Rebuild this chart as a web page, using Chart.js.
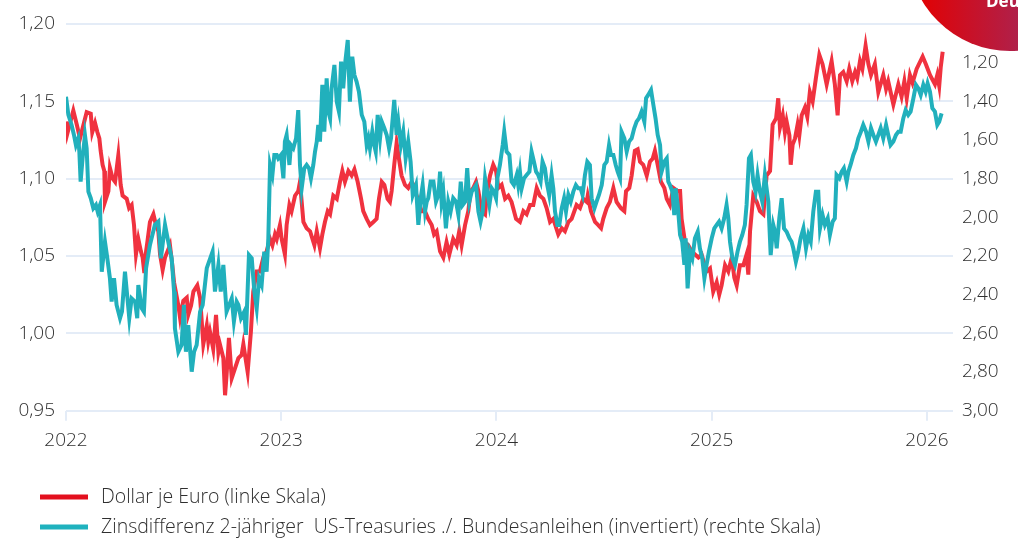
<!DOCTYPE html>
<html lang="de">
<head>
<meta charset="utf-8">
<script src="https://cdn.jsdelivr.net/npm/chart.js@4.4.1/dist/chart.umd.min.js"></script>
<style>
  html, body { margin: 0; padding: 0; background: #fff; }
  #wrap { width: 1018px; height: 538px; position: relative; }
</style>
</head>
<body>
<div id="wrap"><canvas id="chart"></canvas></div>
<script>
// Dollar je Euro (linke Skala), Zeitpunkte als Dezimaljahr
const euroJahr = [
  2022.000, 2022.006, 2022.034, 2022.050, 2022.065, 2022.096, 2022.115, 2022.122, 2022.135, 2022.146,
  2022.155, 2022.161, 2022.170, 2022.178, 2022.181, 2022.197, 2022.204, 2022.217, 2022.228, 2022.243,
  2022.254, 2022.263, 2022.282, 2022.293, 2022.305, 2022.316, 2022.325, 2022.336, 2022.348, 2022.356,
  2022.364, 2022.372, 2022.378, 2022.390, 2022.406, 2022.418, 2022.429, 2022.437, 2022.449, 2022.460,
  2022.483, 2022.494, 2022.502, 2022.522, 2022.530, 2022.545, 2022.561, 2022.568, 2022.581, 2022.592,
  2022.610, 2022.623, 2022.638, 2022.654, 2022.661, 2022.669, 2022.684, 2022.697, 2022.708, 2022.715,
  2022.731, 2022.739, 2022.746, 2022.757, 2022.770, 2022.801, 2022.816, 2022.824, 2022.844, 2022.859,
  2022.870, 2022.886, 2022.901, 2022.917, 2022.932, 2022.948, 2022.959, 2022.971, 2022.979, 2022.994,
  2023.002, 2023.017, 2023.025, 2023.038, 2023.048, 2023.064, 2023.079, 2023.087, 2023.103, 2023.118,
  2023.134, 2023.154, 2023.165, 2023.180, 2023.191, 2023.203, 2023.216, 2023.227, 2023.242, 2023.258,
  2023.273, 2023.284, 2023.296, 2023.312, 2023.327, 2023.340, 2023.355, 2023.371, 2023.381, 2023.397,
  2023.412, 2023.428, 2023.443, 2023.454, 2023.467, 2023.479, 2023.494, 2023.505, 2023.513, 2023.525,
  2023.536, 2023.549, 2023.559, 2023.575, 2023.590, 2023.606, 2023.614, 2023.629, 2023.652, 2023.668,
  2023.683, 2023.699, 2023.710, 2023.722, 2023.738, 2023.753, 2023.768, 2023.781, 2023.799, 2023.815,
  2023.827, 2023.838, 2023.854, 2023.869, 2023.880, 2023.892, 2023.905, 2023.916, 2023.931, 2023.947,
  2023.957, 2023.970, 2023.985, 2023.998, 2024.009, 2024.024, 2024.040, 2024.055, 2024.070, 2024.091,
  2024.109, 2024.125, 2024.140, 2024.156, 2024.171, 2024.187, 2024.202, 2024.218, 2024.233, 2024.249,
  2024.264, 2024.287, 2024.303, 2024.318, 2024.334, 2024.349, 2024.372, 2024.388, 2024.403, 2024.419,
  2024.424, 2024.439, 2024.458, 2024.473, 2024.486, 2024.496, 2024.512, 2024.527, 2024.543, 2024.558,
  2024.578, 2024.594, 2024.602, 2024.617, 2024.628, 2024.643, 2024.656, 2024.667, 2024.682, 2024.698,
  2024.713, 2024.726, 2024.736, 2024.749, 2024.764, 2024.780, 2024.791, 2024.806, 2024.822, 2024.842,
  2024.853, 2024.860, 2024.876, 2024.891, 2024.907, 2024.938, 2024.953, 2024.976, 2024.992, 2025.007,
  2025.023, 2025.035, 2025.046, 2025.062, 2025.077, 2025.093, 2025.105, 2025.116, 2025.131, 2025.147,
  2025.162, 2025.170, 2025.178, 2025.193, 2025.209, 2025.224, 2025.240, 2025.255, 2025.271, 2025.283,
  2025.299, 2025.309, 2025.317, 2025.330, 2025.340, 2025.348, 2025.361, 2025.367, 2025.376, 2025.387,
  2025.399, 2025.407, 2025.418, 2025.433, 2025.444, 2025.456, 2025.469, 2025.484, 2025.500, 2025.515,
  2025.534, 2025.557, 2025.572, 2025.585, 2025.596, 2025.611, 2025.627, 2025.639, 2025.653, 2025.666,
  2025.676, 2025.689, 2025.700, 2025.715, 2025.728, 2025.740, 2025.758, 2025.774, 2025.797, 2025.810,
  2025.820, 2025.844, 2025.867, 2025.882, 2025.895, 2025.906, 2025.921, 2025.933, 2025.952, 2025.980,
  2025.995, 2026.014, 2026.037, 2026.048, 2026.057, 2026.064, 2026.073
];
const euroKurs = [
  1.137, 1.129, 1.144, 1.135, 1.126, 1.143, 1.142, 1.130, 1.136, 1.130,
  1.126, 1.118, 1.109, 1.105, 1.085, 1.092, 1.107, 1.100, 1.098, 1.115,
  1.096, 1.089, 1.087, 1.081, 1.083, 1.070, 1.051, 1.061, 1.053, 1.049,
  1.039, 1.053, 1.059, 1.072, 1.077, 1.070, 1.066, 1.051, 1.041, 1.049,
  1.057, 1.044, 1.033, 1.018, 1.010, 1.021, 1.023, 1.012, 1.018, 1.027,
  1.031, 1.023, 0.993, 1.005, 0.995, 1.001, 0.990, 1.012, 0.988, 0.993,
  0.984, 0.960, 0.973, 0.997, 0.971, 0.984, 0.986, 0.993, 0.975, 1.001,
  1.027, 1.040, 1.040, 1.049, 1.053, 1.061, 1.057, 1.064, 1.061, 1.070,
  1.061, 1.051, 1.070, 1.083, 1.079, 1.089, 1.092, 1.098, 1.072, 1.068,
  1.066, 1.057, 1.066, 1.055, 1.064, 1.072, 1.079, 1.077, 1.089, 1.087,
  1.098, 1.105, 1.098, 1.105, 1.102, 1.106, 1.098, 1.087, 1.079, 1.074,
  1.070, 1.072, 1.074, 1.087, 1.098, 1.096, 1.087, 1.085, 1.092, 1.109,
  1.123, 1.111, 1.102, 1.096, 1.094, 1.098, 1.096, 1.089, 1.079, 1.079,
  1.074, 1.070, 1.064, 1.066, 1.053, 1.049, 1.059, 1.051, 1.061, 1.057,
  1.066, 1.057, 1.070, 1.079, 1.092, 1.094, 1.098, 1.092, 1.079, 1.077,
  1.092, 1.102, 1.109, 1.105, 1.094, 1.096, 1.087, 1.089, 1.085, 1.074,
  1.072, 1.079, 1.077, 1.083, 1.083, 1.094, 1.089, 1.087, 1.081, 1.072,
  1.074, 1.064, 1.068, 1.066, 1.072, 1.074, 1.083, 1.081, 1.087, 1.085,
  1.089, 1.079, 1.072, 1.070, 1.068, 1.074, 1.081, 1.085, 1.094, 1.085,
  1.081, 1.079, 1.092, 1.094, 1.102, 1.118, 1.119, 1.111, 1.109, 1.102,
  1.111, 1.113, 1.118, 1.109, 1.098, 1.094, 1.087, 1.083, 1.094, 1.092,
  1.092, 1.074, 1.059, 1.057, 1.053, 1.049, 1.051, 1.040, 1.042, 1.027,
  1.033, 1.025, 1.031, 1.044, 1.040, 1.049, 1.036, 1.031, 1.044, 1.044,
  1.051, 1.038, 1.066, 1.089, 1.085, 1.079, 1.077, 1.102, 1.105, 1.135,
  1.139, 1.152, 1.133, 1.141, 1.130, 1.137, 1.128, 1.109, 1.122, 1.126,
  1.135, 1.128, 1.141, 1.146, 1.140, 1.156, 1.150, 1.165, 1.180, 1.174,
  1.161, 1.176, 1.161, 1.141, 1.167, 1.169, 1.163, 1.171, 1.163, 1.169,
  1.165, 1.176, 1.171, 1.186, 1.174, 1.167, 1.174, 1.156, 1.167, 1.158,
  1.163, 1.148, 1.161, 1.153, 1.163, 1.152, 1.167, 1.162, 1.171, 1.179,
  1.174, 1.167, 1.161, 1.167, 1.160, 1.172, 1.182
];

// Zinsdifferenz 2-jährige US-Treasuries ./. Bundesanleihen (rechte Skala, invertiert)
const spreadJahr = [
  2022.000, 2022.011, 2022.026, 2022.037, 2022.046, 2022.057, 2022.062, 2022.068, 2022.077, 2022.088,
  2022.096, 2022.104, 2022.115, 2022.127, 2022.139, 2022.147, 2022.158, 2022.166, 2022.181, 2022.192,
  2022.204, 2022.212, 2022.223, 2022.235, 2022.251, 2022.260, 2022.274, 2022.294, 2022.305, 2022.321,
  2022.331, 2022.336, 2022.352, 2022.362, 2022.372, 2022.390, 2022.413, 2022.429, 2022.441, 2022.460,
  2022.475, 2022.491, 2022.502, 2022.506, 2022.522, 2022.537, 2022.548, 2022.557, 2022.568, 2022.584,
  2022.595, 2022.607, 2022.623, 2022.635, 2022.654, 2022.681, 2022.692, 2022.708, 2022.719, 2022.731,
  2022.746, 2022.770, 2022.780, 2022.793, 2022.801, 2022.813, 2022.828, 2022.836, 2022.850, 2022.863,
  2022.875, 2022.886, 2022.897, 2022.909, 2022.921, 2022.932, 2022.940, 2022.948, 2022.959, 2022.968,
  2022.979, 2022.986, 2022.999, 2023.010, 2023.017, 2023.025, 2023.038, 2023.045, 2023.056, 2023.069,
  2023.079, 2023.087, 2023.095, 2023.107, 2023.118, 2023.129, 2023.138, 2023.149, 2023.157, 2023.165,
  2023.172, 2023.180, 2023.191, 2023.200, 2023.211, 2023.219, 2023.227, 2023.234, 2023.247, 2023.258,
  2023.268, 2023.278, 2023.288, 2023.296, 2023.309, 2023.319, 2023.330, 2023.340, 2023.350, 2023.361,
  2023.374, 2023.386, 2023.397, 2023.405, 2023.412, 2023.423, 2023.432, 2023.439, 2023.448, 2023.459,
  2023.467, 2023.479, 2023.490, 2023.501, 2023.510, 2023.525, 2023.536, 2023.544, 2023.556, 2023.567,
  2023.578, 2023.590, 2023.601, 2023.611, 2023.626, 2023.637, 2023.648, 2023.657, 2023.668, 2023.676,
  2023.683, 2023.694, 2023.707, 2023.719, 2023.730, 2023.738, 2023.745, 2023.753, 2023.765, 2023.776,
  2023.787, 2023.799, 2023.812, 2023.823, 2023.834, 2023.843, 2023.854, 2023.864, 2023.874, 2023.885,
  2023.895, 2023.905, 2023.916, 2023.926, 2023.936, 2023.947, 2023.957, 2023.967, 2023.978, 2023.988,
  2023.998, 2024.004, 2024.016, 2024.029, 2024.036, 2024.047, 2024.060, 2024.070, 2024.081, 2024.094,
  2024.101, 2024.109, 2024.117, 2024.128, 2024.140, 2024.153, 2024.163, 2024.174, 2024.184, 2024.194,
  2024.205, 2024.214, 2024.225, 2024.233, 2024.245, 2024.256, 2024.264, 2024.272, 2024.283, 2024.292,
  2024.303, 2024.314, 2024.323, 2024.334, 2024.345, 2024.357, 2024.369, 2024.380, 2024.391, 2024.400,
  2024.411, 2024.422, 2024.434, 2024.442, 2024.455, 2024.465, 2024.476, 2024.489, 2024.501, 2024.512,
  2024.523, 2024.532, 2024.543, 2024.554, 2024.563, 2024.574, 2024.581, 2024.594, 2024.605, 2024.616,
  2024.628, 2024.640, 2024.651, 2024.662, 2024.674, 2024.687, 2024.695, 2024.705, 2024.718, 2024.729,
  2024.739, 2024.749, 2024.760, 2024.767, 2024.780, 2024.791, 2024.798, 2024.806, 2024.817, 2024.826,
  2024.832, 2024.842, 2024.853, 2024.863, 2024.873, 2024.879, 2024.888, 2024.899, 2024.910, 2024.922,
  2024.935, 2024.945, 2024.956, 2024.966, 2024.976, 2024.987, 2025.000, 2025.012, 2025.023, 2025.034,
  2025.046, 2025.058, 2025.069, 2025.077, 2025.085, 2025.096, 2025.108, 2025.120, 2025.131, 2025.142,
  2025.154, 2025.162, 2025.173, 2025.182, 2025.193, 2025.204, 2025.213, 2025.224, 2025.235, 2025.247,
  2025.263, 2025.274, 2025.286, 2025.294, 2025.302, 2025.314, 2025.325, 2025.336, 2025.348, 2025.361,
  2025.371, 2025.379, 2025.391, 2025.402, 2025.413, 2025.426, 2025.438, 2025.449, 2025.460, 2025.472,
  2025.484, 2025.495, 2025.503, 2025.515, 2025.526, 2025.539, 2025.549, 2025.562, 2025.572, 2025.580,
  2025.593, 2025.604, 2025.614, 2025.627, 2025.635, 2025.645, 2025.658, 2025.670, 2025.681, 2025.693,
  2025.704, 2025.717, 2025.728, 2025.740, 2025.751, 2025.763, 2025.774, 2025.785, 2025.797, 2025.810,
  2025.820, 2025.831, 2025.844, 2025.856, 2025.867, 2025.878, 2025.890, 2025.901, 2025.913, 2025.924,
  2025.937, 2025.949, 2025.960, 2025.971, 2025.983, 2025.994, 2026.003, 2026.014, 2026.025, 2026.037,
  2026.048, 2026.057, 2026.068
];
const spreadWert = [
  1.376, 1.470, 1.522, 1.574, 1.626, 1.591, 1.660, 1.815, 1.695, 1.574,
  1.643, 1.867, 1.901, 1.953, 1.936, 1.970, 1.936, 2.281, 2.126, 2.212,
  2.315, 2.436, 2.315, 2.453, 2.522, 2.488, 2.281, 2.522, 2.419, 2.436,
  2.522, 2.350, 2.470, 2.488, 2.263, 2.143, 2.039, 2.022, 2.212, 2.039,
  2.126, 2.212, 2.384, 2.574, 2.695, 2.660, 2.453, 2.695, 2.557, 2.798,
  2.695, 2.660, 2.488, 2.453, 2.263, 2.177, 2.384, 2.246, 2.384, 2.246,
  2.488, 2.419, 2.539, 2.436, 2.453, 2.522, 2.488, 2.608, 2.195, 2.212,
  2.384, 2.470, 2.315, 2.350, 2.177, 2.281, 2.108, 1.729, 1.781, 1.677,
  1.677, 1.695, 1.677, 1.798, 1.608, 1.574, 1.729, 1.626, 1.643, 1.591,
  1.445, 1.729, 1.850, 1.746, 1.729, 1.746, 1.798, 1.729, 1.660, 1.608,
  1.522, 1.608, 1.315, 1.557, 1.281, 1.453, 1.488, 1.333, 1.212, 1.402,
  1.453, 1.195, 1.333, 1.212, 1.083, 1.402, 1.169, 1.264, 1.298, 1.350,
  1.470, 1.505, 1.626, 1.591, 1.643, 1.557, 1.626, 1.660, 1.470, 1.591,
  1.505, 1.539, 1.574, 1.643, 1.591, 1.393, 1.574, 1.505, 1.626, 1.557,
  1.695, 1.608, 1.712, 1.884, 1.833, 2.039, 1.901, 1.833, 1.970, 1.919,
  1.901, 1.815, 1.815, 1.919, 1.884, 1.764, 1.919, 1.867, 2.057, 1.919,
  1.970, 1.901, 1.919, 1.988, 1.815, 1.936, 1.919, 1.746, 1.919, 1.867,
  1.850, 1.833, 1.970, 2.022, 1.970, 1.798, 1.867, 1.936, 1.850, 1.867,
  1.901, 1.798, 1.729, 1.626, 1.557, 1.660, 1.677, 1.815, 1.833, 1.781,
  1.833, 1.764, 1.850, 1.798, 1.781, 1.764, 1.660, 1.712, 1.764, 1.781,
  1.815, 1.712, 1.746, 1.815, 1.884, 1.781, 1.850, 1.970, 2.039, 2.039,
  1.953, 1.901, 1.970, 1.884, 1.919, 1.867, 1.833, 1.850, 1.850, 1.884,
  1.781, 1.712, 1.729, 1.901, 1.953, 1.919, 1.884, 1.833, 1.729, 1.712,
  1.626, 1.677, 1.677, 1.729, 1.764, 1.798, 1.557, 1.591, 1.660, 1.608,
  1.591, 1.539, 1.505, 1.488, 1.453, 1.505, 1.384, 1.367, 1.341, 1.419,
  1.488, 1.574, 1.626, 1.764, 1.712, 1.695, 1.815, 1.833, 1.867, 1.988,
  1.850, 1.936, 2.091, 2.126, 2.246, 2.108, 2.367, 2.177, 2.212, 2.108,
  2.074, 2.160, 2.212, 2.315, 2.246, 2.177, 2.108, 2.057, 2.039, 2.022,
  2.057, 2.005, 1.936, 2.005, 2.126, 2.212, 2.246, 2.177, 2.126, 2.091,
  2.039, 1.936, 1.695, 1.677, 1.815, 1.867, 1.781, 1.867, 1.919, 1.781,
  1.919, 2.195, 2.039, 2.074, 2.160, 2.005, 1.901, 2.057, 2.074, 2.108,
  2.126, 2.160, 2.229, 2.177, 2.108, 2.057, 2.160, 2.091, 2.126, 1.970,
  1.867, 1.867, 2.057, 1.988, 2.039, 2.005, 2.091, 2.022, 2.005, 1.781,
  1.798, 1.764, 1.746, 1.815, 1.764, 1.729, 1.677, 1.643, 1.591, 1.557,
  1.522, 1.557, 1.608, 1.539, 1.574, 1.608, 1.574, 1.539, 1.591, 1.522,
  1.574, 1.626, 1.608, 1.574, 1.557, 1.557, 1.488, 1.445, 1.470, 1.453,
  1.384, 1.315, 1.333, 1.367, 1.315, 1.350, 1.307, 1.350, 1.436, 1.453,
  1.522, 1.505, 1.462
];

const jahresTicks = [2022, 2023, 2024, 2025, 2026];
const linkeTicks = [0.95, 1.00, 1.05, 1.10, 1.15, 1.20];
const rechteTicks = [1.0, 1.2, 1.4, 1.6, 1.8, 2.0, 2.2, 2.4, 2.6, 2.8, 3.0];
const serienNamen = [
  "Dollar je Euro (linke Skala)",
  "Zinsdifferenz 2-jähriger  US-Treasuries ./. Bundesanleihen (invertiert) (rechte Skala)"
];

const rot = "#f0323f";
const tuerkis = "#21b0bc";
const gitterFarbe = "#e4ecf7";
const textFarbe = "#2f2f2f";
const schrift = { family: "'Open Sans', sans-serif", size: 19, weight: "300" };

function komma(v) {
  return v.toFixed(2).replace(".", ",");
}

// Legende unten links: Linie + Text, zwei Zeilen
const legendeUnten = {
  id: "legendeUnten",
  afterDraw(chart) {
    const ctx = chart.ctx;
    const farben = ["#e3101e", "#1fb2be"];
    const zeilenY = [497, 527];
    ctx.save();
    ctx.font = "300 19.5px 'Open Sans', sans-serif";
    ctx.textBaseline = "middle";
    ctx.fillStyle = textFarbe;
    serienNamen.forEach((name, i) => {
      ctx.strokeStyle = farben[i];
      ctx.lineWidth = 5;
      ctx.beginPath();
      ctx.moveTo(40, zeilenY[i]);
      ctx.lineTo(88, zeilenY[i]);
      ctx.stroke();
      ctx.fillText(name, 101, zeilenY[i]);
    });
    ctx.restore();
  }
};

// roter Kreisausschnitt oben rechts
const eckKreis = {
  id: "eckKreis",
  afterDraw(chart) {
    const ctx = chart.ctx;
    ctx.save();
    const grad = ctx.createLinearGradient(915, 0, 1018, 0);
    grad.addColorStop(0, "#e40000");
    grad.addColorStop(1, "#b0204a");
    ctx.fillStyle = grad;
    ctx.beginPath();
    ctx.arc(1010, -51, 102, 0, Math.PI * 2);
    ctx.fill();
    ctx.fillStyle = "#ffffff";
    ctx.font = "bold 17px 'Open Sans', sans-serif";
    ctx.textBaseline = "alphabetic";
    ctx.fillText("Deut", 986, 7);
    ctx.restore();
  }
};

const ctx = document.getElementById("chart").getContext("2d");
new Chart(ctx, {
  type: "line",
  data: {
    datasets: [
      {
        label: serienNamen[0],
        data: euroJahr.map((x, i) => ({ x: x, y: euroKurs[i] })),
        yAxisID: "links",
        borderColor: rot,
        borderWidth: 4,
        pointRadius: 0,
        tension: 0,
        order: 1
      },
      {
        label: serienNamen[1],
        data: spreadJahr.map((x, i) => ({ x: x, y: spreadWert[i] })),
        yAxisID: "rechts",
        borderColor: tuerkis,
        borderWidth: 4,
        pointRadius: 0,
        tension: 0,
        order: 0
      }
    ]
  },
  options: {
    responsive: true,
    maintainAspectRatio: false,
    animation: false,
    devicePixelRatio: 1,
    layout: { padding: { top: 24, bottom: 0, left: 0, right: 0 } },
    plugins: { legend: { display: false }, tooltip: { enabled: false } },
    scales: {
      x: {
        type: "linear",
        min: 2022,
        max: 2026.121,
        afterBuildTicks: (s) => { s.ticks = jahresTicks.map((v) => ({ value: v })); },
        afterFit: (s) => { s.height = 127.3; },
        ticks: {
          callback: (v) => String(v),
          font: schrift,
          color: textFarbe,
          padding: 8,
          maxRotation: 0,
          autoSkip: false
        },
        grid: { drawOnChartArea: false, color: gitterFarbe, lineWidth: 2, tickLength: 10 },
        border: { display: false }
      },
      links: {
        position: "left",
        min: 0.95,
        max: 1.2,
        afterBuildTicks: (s) => { s.ticks = linkeTicks.map((v) => ({ value: v })); },
        afterFit: (s) => { s.width = 66; },
        ticks: { callback: (v) => komma(v), font: schrift, color: textFarbe, padding: 11 },
        grid: { color: gitterFarbe, lineWidth: 2, drawTicks: false },
        border: { display: false }
      },
      rechts: {
        position: "right",
        reverse: true,
        min: 1.0,
        max: 3.0,
        afterBuildTicks: (s) => { s.ticks = rechteTicks.map((v) => ({ value: v })); },
        afterFit: (s) => { s.width = 65; },
        ticks: { callback: (v) => komma(v), font: schrift, color: textFarbe, padding: 9 },
        grid: { display: false, drawTicks: false },
        border: { display: false }
      }
    }
  },
  plugins: [legendeUnten, eckKreis]
});
</script>
</body>
</html>
